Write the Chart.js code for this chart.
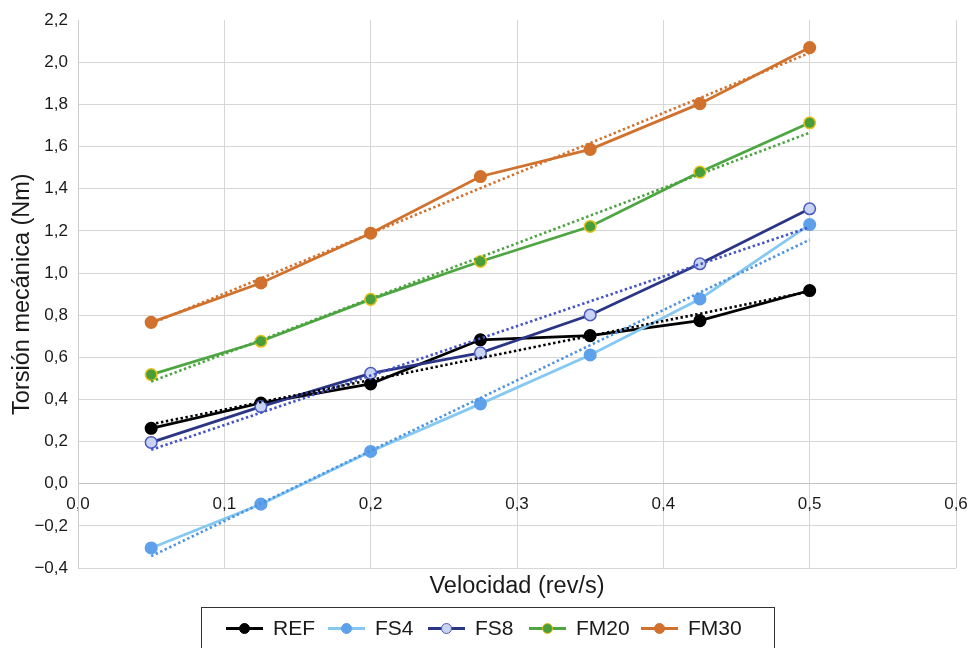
<!DOCTYPE html>
<html><head><meta charset="utf-8">
<script src="https://cdn.jsdelivr.net/npm/chart.js@4.4.0/dist/chart.umd.min.js"></script>
<style>
html,body{margin:0;padding:0;background:#fff;}
#wrap{position:relative;width:972px;height:648px;overflow:hidden;font-family:"Liberation Sans",Arial,sans-serif;color:#1a1a1a;}
#c{position:absolute;left:0;top:0;}
#xtitle{position:absolute;left:78px;width:878px;top:571px;text-align:center;font-size:23.5px;line-height:28px;}
#legend{position:absolute;left:201px;top:607px;width:574px;height:50px;border:1px solid #333;box-sizing:border-box;}
.item{position:absolute;top:9px;height:22px;display:flex;align-items:center;}
.sym{position:relative;width:37px;height:22px;margin-right:10px;}
.ln{position:absolute;left:0;right:0;top:10px;height:3px;}
.dot{position:absolute;left:13px;top:6px;width:11px;height:11px;border-radius:50%;box-sizing:border-box;}
.lbl{font-size:21px;line-height:22px;}
</style>
</head><body>
<div id="wrap">
<canvas id="c" width="972" height="648"></canvas>
<div id="xtitle">Velocidad (rev/s)</div>
<div id="legend"></div>
</div>
<script>
const xValues = [0.05, 0.125, 0.2, 0.275, 0.35, 0.425, 0.5];
const seriesNames = ['REF', 'FS4', 'FS8', 'FM20', 'FM30'];
const refValues  = [0.263, 0.383, 0.474, 0.683, 0.703, 0.774, 0.917];
const fs4Values  = [-0.305, -0.097, 0.153, 0.379, 0.611, 0.877, 1.230];
const fs8Values  = [0.196, 0.366, 0.524, 0.621, 0.801, 1.044, 1.305];
const fm20Values = [0.518, 0.676, 0.875, 1.055, 1.221, 1.479, 1.713];
const fm30Values = [0.766, 0.953, 1.189, 1.458, 1.587, 1.804, 2.070];
const trendX    = [0.05, 0.5];
const refTrend  = [0.282, 0.912];
const fs4Trend  = [-0.344, 1.158];
const fs8Trend  = [0.161, 1.218];
const fm20Trend = [0.485, 1.666];
const fm30Trend = [0.760, 2.045];
const yTickValues = [-0.4, -0.2, 0, 0.2, 0.4, 0.6, 0.8, 1.0, 1.2, 1.4, 1.6, 1.8, 2.0, 2.2];
const yTickLabels = ['\u22120,4', '\u22120,2', '0,0', '0,2', '0,4', '0,6', '0,8', '1,0', '1,2', '1,4', '1,6', '1,8', '2,0', '2,2'];
const xTickValues = [0, 0.1, 0.2, 0.3, 0.4, 0.5, 0.6];
const xTickLabels = ['0,0', '0,1', '0,2', '0,3', '0,4', '0,5', '0,6'];

const styles = {
  REF:  {line: '#000000', fill: '#000000', border: '#000000', trend: '#000000'},
  FS4:  {line: '#85c9f2', fill: '#5ea1ea', border: '#5ea1ea', trend: '#4f93e0'},
  FS8:  {line: '#2b3585', fill: '#c9d3f3', border: '#4a59c2', trend: '#4453c6'},
  FM20: {line: '#4ea642', fill: '#4a9e3a', border: '#e6c21c', trend: '#4aa340'},
  FM30: {line: '#d0712d', fill: '#d0712d', border: '#d0712d', trend: '#d0712d'}
};
const seriesValues = [refValues, fs4Values, fs8Values, fm20Values, fm30Values];
const trendValues = [refTrend, fs4Trend, fs8Trend, fm20Trend, fm30Trend];

const datasets = [];
seriesNames.forEach((name, i) => {
  const s = styles[name];
  datasets.push({
    label: name + ' tendencia',
    data: trendX.map((x, j) => ({x: x, y: trendValues[i][j]})),
    borderColor: s.trend, borderWidth: 2.6, borderDash: [2.4, 2.6],
    pointRadius: 0, fill: false, order: 0
  });
});
seriesNames.forEach((name, i) => {
  const s = styles[name];
  datasets.push({
    label: name,
    data: xValues.map((x, j) => ({x: x, y: seriesValues[i][j]})),
    borderColor: s.line, borderWidth: 2.75,
    pointRadius: 5.8, pointBackgroundColor: s.fill, pointBorderColor: s.border,
    pointBorderWidth: 1.5, fill: false, order: 5 - i
  });
});

const fontFam = '"Liberation Sans", Arial, sans-serif';
new Chart(document.getElementById('c'), {
  type: 'line',
  data: {datasets: datasets},
  options: {
    responsive: false, animation: false, devicePixelRatio: 1,
    layout: {padding: {top: 20, right: 16, bottom: 80, left: 0}},
    plugins: {legend: {display: false}, tooltip: {enabled: false}, title: {display: false}},
    elements: {line: {tension: 0}},
    scales: {
      x: {
        type: 'linear', min: 0, max: 0.6, position: {y: 0},
        afterBuildTicks: (sc) => { sc.ticks = xTickValues.map(v => ({value: v})); },
        afterFit: (sc) => { sc.paddingLeft = 0; sc.paddingRight = 0; },
        ticks: {callback: (v, i) => xTickLabels[i], font: {family: fontFam, size: 17}, color: '#1a1a1a', padding: 10, maxRotation: 0, autoSkip: false},
        grid: {color: '#d6d6d6', lineWidth: 1, drawTicks: false},
        border: {color: '#c4c4c4', width: 1}
      },
      y: {
        type: 'linear', min: -0.4, max: 2.2, position: 'left',
        afterBuildTicks: (sc) => { sc.ticks = yTickValues.map(v => ({value: v})); },
        afterFit: (sc) => { sc.width = 78; },
        ticks: {callback: (v, i) => yTickLabels[i], font: {family: fontFam, size: 17}, color: '#1a1a1a', padding: 10, autoSkip: false},
        grid: {color: (ctx) => (ctx.index === yTickValues.length - 1 ? 'rgba(0,0,0,0)' : '#d6d6d6'), lineWidth: 1, drawTicks: false},
        border: {color: '#cccccc', width: 1},
        title: {display: true, text: 'Torsión mecánica (Nm)', font: {family: fontFam, size: 23.5}, color: '#1a1a1a', padding: {top: 8, bottom: 0}}
      }
    }
  }
});

// HTML legend built from series names and styles
const legendLefts = [24, 126, 226, 327, 439];
const legend = document.getElementById('legend');
seriesNames.forEach((name, i) => {
  const s = styles[name];
  const item = document.createElement('div');
  item.className = 'item';
  item.style.left = legendLefts[i] + 'px';
  item.innerHTML = '<span class="sym"><span class="ln" style="background:' + s.line + '"></span>' +
    '<span class="dot" style="background:' + s.fill + ';border:1.5px solid ' + s.border + '"></span></span>' +
    '<span class="lbl">' + name + '</span>';
  legend.appendChild(item);
});
</script>
</body></html>
